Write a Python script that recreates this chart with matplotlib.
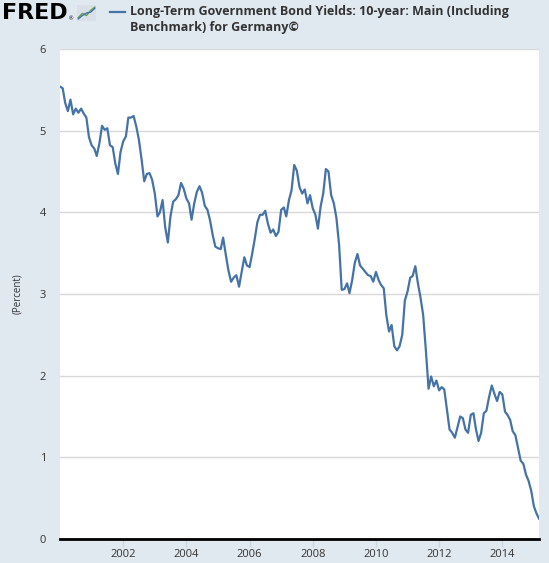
import pandas as pd
import matplotlib.pyplot as plt
import matplotlib.dates as mdates

# Monthly 10-year German government bond yields, Jan 2000 - Mar 2015 (percent)
y2000 = [5.54, 5.52, 5.34, 5.24, 5.38, 5.20, 5.27, 5.22, 5.27, 5.21, 5.16, 4.92]
y2001 = [4.82, 4.78, 4.69, 4.85, 5.06, 5.01, 5.03, 4.82, 4.80, 4.60, 4.47, 4.74]
y2002 = [4.87, 4.93, 5.16, 5.16, 5.18, 5.05, 4.89, 4.65, 4.38, 4.47, 4.48, 4.40]
y2003 = [4.23, 3.95, 4.00, 4.15, 3.82, 3.63, 3.95, 4.13, 4.16, 4.21, 4.36, 4.29]
y2004 = [4.17, 4.11, 3.91, 4.11, 4.25, 4.32, 4.24, 4.08, 4.03, 3.90, 3.72, 3.58]
y2005 = [3.56, 3.55, 3.69, 3.48, 3.29, 3.15, 3.20, 3.23, 3.09, 3.27, 3.45, 3.35]
y2006 = [3.33, 3.50, 3.67, 3.88, 3.97, 3.97, 4.02, 3.86, 3.75, 3.79, 3.71, 3.76]
y2007 = [4.03, 4.06, 3.95, 4.15, 4.27, 4.58, 4.51, 4.31, 4.23, 4.28, 4.11, 4.21]
y2008 = [4.05, 3.97, 3.80, 4.07, 4.23, 4.53, 4.50, 4.21, 4.11, 3.93, 3.60, 3.05]
y2009 = [3.06, 3.13, 3.01, 3.17, 3.38, 3.49, 3.35, 3.31, 3.27, 3.23, 3.22, 3.15]
y2010 = [3.27, 3.17, 3.11, 3.07, 2.74, 2.54, 2.62, 2.36, 2.31, 2.36, 2.50, 2.92]
y2011 = [3.03, 3.20, 3.22, 3.34, 3.13, 2.95, 2.74, 2.31, 1.84, 1.99, 1.87, 1.94]
y2012 = [1.82, 1.86, 1.83, 1.58, 1.34, 1.30, 1.24, 1.37, 1.50, 1.48, 1.34, 1.30]
y2013 = [1.52, 1.54, 1.35, 1.20, 1.30, 1.54, 1.57, 1.74, 1.88, 1.78, 1.69, 1.80]
y2014 = [1.77, 1.56, 1.52, 1.46, 1.32, 1.27, 1.12, 0.96, 0.92, 0.79, 0.71, 0.59]
y2015 = [0.40, 0.31, 0.25]

values = (y2000 + y2001 + y2002 + y2003 + y2004 + y2005 + y2006 + y2007
          + y2008 + y2009 + y2010 + y2011 + y2012 + y2013 + y2014 + y2015)
dates = pd.date_range('2000-01-01', periods=len(values), freq='MS')

tick_years = [2002, 2004, 2006, 2008, 2010, 2012, 2014]
y_ticks = [0, 1, 2, 3, 4, 5, 6]

title_line1 = 'Long-Term Government Bond Yields: 10-year: Main (Including'
title_line2 = 'Benchmark) for Germany\u00a9'

bg = '#e1e9f0'
line_color = '#4572a7'
text_color = '#333333'

plt.rcParams['font.family'] = ['Open Sans', 'DejaVu Sans']

fig = plt.figure(figsize=(5.49, 5.63), dpi=100, facecolor=bg)
ax = fig.add_axes([60 / 549, 24 / 563, 479 / 549, 490 / 563])
ax.set_facecolor('white')

ax.plot(dates, values, color=line_color, linewidth=1.6, solid_joinstyle='round')

ax.set_xlim(dates[0], dates[-1])
ax.set_ylim(0, 6)

ax.set_yticks(y_ticks)
ax.set_yticklabels([str(t) for t in y_ticks])
ax.yaxis.grid(True, color='#d8d8d8', linewidth=1)
ax.set_axisbelow(True)

ax.set_xticks([pd.Timestamp(f'{y}-01-01') for y in tick_years])
ax.xaxis.set_major_formatter(mdates.DateFormatter('%Y'))

ax.tick_params(axis='y', length=0, pad=10, labelsize=8, labelcolor=text_color)
ax.tick_params(axis='x', length=6, width=1, color='#c8d6e3', pad=1.5,
               labelsize=8, labelcolor=text_color)

for side in ['top', 'right', 'left']:
    ax.spines[side].set_visible(False)
ax.spines['bottom'].set_color('black')
ax.spines['bottom'].set_linewidth(2)

ax.set_ylabel('(Percent)', fontsize=7, color=text_color, labelpad=12)

# header: FRED logo and legend
fig.text(2 / 549, 1 - 13 / 563, 'FRED', fontsize=16, fontweight='black',
         color='black', family='DejaVu Sans', va='center', ha='left')
fig.text(69 / 549, 1 - 19 / 563, '\u00ae', fontsize=4, color='black', va='center')

icon = fig.add_axes([77 / 549, 1 - 21 / 563, 19 / 549, 16 / 563])
icon.set_facecolor('#d9e0e7')
icon.plot([0, 1, 2, 3, 4], [0.5, 1.5, 1.0, 2.2, 3.0], color='#5fa04e', lw=1.0)
icon.plot([0, 1, 2, 3, 4], [0.2, 1.0, 1.6, 1.8, 2.7], color='#4572a7', lw=1.0)
icon.set_xlim(-0.3, 4.3)
icon.set_ylim(-0.3, 3.5)
icon.set_xticks([])
icon.set_yticks([])
for s in icon.spines.values():
    s.set_visible(False)

fig.lines.append(plt.Line2D([110 / 549, 125 / 549], [1 - 12 / 563, 1 - 12 / 563],
                            transform=fig.transFigure, color=line_color, lw=1.6))
fig.text(130 / 549, 1 - 11.5 / 563, title_line1, fontsize=9, fontweight='bold',
         color=text_color, va='center', ha='left')
fig.text(130 / 549, 1 - 28 / 563, title_line2, fontsize=9, fontweight='bold',
         color=text_color, va='center', ha='left')

fig.savefig('out.png', dpi=100, facecolor=bg)
